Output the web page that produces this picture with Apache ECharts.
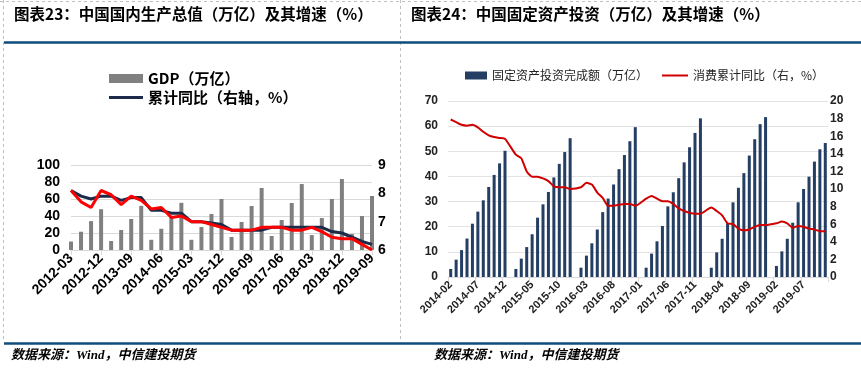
<!DOCTYPE html>
<html><head><meta charset="utf-8">
<script src="https://cdn.jsdelivr.net/npm/echarts@6/dist/echarts.min.js"></script>
<style>html,body{margin:0;padding:0;background:#fff}#c{width:861px;height:368px}</style>
</head><body><div id="c"></div>
<script>
// ---- Chart 23: GDP ----
const gdpCats = ['2012-03','2012-06','2012-09','2012-12','2013-03','2013-06','2013-09','2013-12','2014-03','2014-06','2014-09','2014-12','2015-03','2015-06','2015-09','2015-12','2016-03','2016-06','2016-09','2016-12','2017-03','2017-06','2017-09','2017-12','2018-03','2018-06','2018-09','2018-12','2019-03','2019-06','2019-09'];
const gdpValues = [10, 21.5, 34, 48, 10.6, 23.5, 36.5, 52, 12, 25, 39, 55.5, 12, 27, 42.4, 60, 15.3, 33, 51.8, 73, 16.5, 35.3, 55.3, 77.6, 17.6, 37.6, 60, 83.5, 18.8, 40, 63.5];
const gdpCumYoY = [8.1, 7.9, 7.8, 7.9, 7.9, 7.75, 7.85, 7.85, 7.4, 7.4, 7.3, 7.3, 7.0, 7.0, 6.95, 6.9, 6.7, 6.7, 6.7, 6.7, 6.8, 6.8, 6.8, 6.8, 6.8, 6.8, 6.65, 6.6, 6.45, 6.3, 6.2];
const gdpQtrYoY = [8.1, 7.7, 7.5, 8.1, 7.95, 7.6, 7.9, 7.75, 7.45, 7.5, 7.15, 7.2, 7.0, 7.0, 6.9, 6.8, 6.7, 6.7, 6.7, 6.8, 6.8, 6.8, 6.7, 6.7, 6.8, 6.65, 6.45, 6.4, 6.4, 6.2, 6.0];
const gdpLeftTicks = {min: 0, max: 100, interval: 20};
const gdpRightTicks = {min: 6, max: 9, interval: 1};

// ---- Chart 24: Fixed asset investment ----
const faiCats = [
 '2014-02','2014-03','2014-04','2014-05','2014-06','2014-07','2014-08','2014-09','2014-10','2014-11','2014-12',
 '2015-01','2015-02','2015-03','2015-04','2015-05','2015-06','2015-07','2015-08','2015-09','2015-10','2015-11','2015-12',
 '2016-01','2016-02','2016-03','2016-04','2016-05','2016-06','2016-07','2016-08','2016-09','2016-10','2016-11','2016-12',
 '2017-01','2017-02','2017-03','2017-04','2017-05','2017-06','2017-07','2017-08','2017-09','2017-10','2017-11','2017-12',
 '2018-01','2018-02','2018-03','2018-04','2018-05','2018-06','2018-07','2018-08','2018-09','2018-10','2018-11','2018-12',
 '2019-01','2019-02','2019-03','2019-04','2019-05','2019-06','2019-07','2019-08','2019-09','2019-10','2019-11'];
const faiValues = [
 3.2, 6.9, 10.7, 15.3, 21.2, 26.0, 30.5, 35.8, 40.6, 45.2, 50.2,
 null, 3.2, 7.3, 11.9, 17.0, 23.6, 28.9, 33.8, 39.6, 45.0, 49.7, 55.2,
 null, 3.7, 8.5, 13.4, 18.9, 25.8, 31.2, 36.8, 42.9, 48.5, 54.0, 59.6,
 null, 3.7, 9.3, 14.2, 20.3, 28.1, 33.7, 39.3, 45.6, 51.6, 57.3, 63.1,
 null, 3.7, 9.8, 15.2, 21.4, 29.7, 35.5, 41.3, 48.3, 54.8, 60.8, 63.6,
 null, 4.4, 10.2, 15.2, 21.6, 29.7, 35.0, 39.9, 45.9, 50.8, 53.3];
const faiYoY = [
 17.9, 17.6, 17.3, 17.2, 17.3, 17.0, 16.5, 16.1, 15.9, 15.8, 15.7,
 null, 13.9, 13.5, 12.0, 11.4, 11.4, 11.2, 10.9, 10.3, 10.2, 10.2, 10.0,
 null, 10.2, 10.7, 10.5, 9.6, 9.0, 8.1, 8.1, 8.2, 8.3, 8.3, 8.1,
 null, 8.9, 9.2, 8.9, 8.6, 8.6, 8.3, 7.8, 7.5, 7.3, 7.2, 7.2,
 null, 7.9, 7.5, 7.0, 6.1, 6.0, 5.5, 5.3, 5.4, 5.7, 5.9, 5.9,
 null, 6.1, 6.3, 6.1, 5.6, 5.8, 5.7, 5.5, 5.4, 5.2, 5.2];
const faiLeftTicks = {min: 0, max: 70, interval: 10};
const faiRightTicks = {min: 0, max: 20, interval: 2};

const title23 = '图表23：中国国内生产总值（万亿）及其增速（%）';
const title24 = '图表24：中国固定资产投资（万亿）及其增速（%）';
const sourceText = '数据来源：Wind，中信建投期货';

const FONT = '"Liberation Sans", "Noto Sans CJK SC", sans-serif';
const CJK = '"Noto Sans CJK SC", sans-serif';
const BLUE = '#0e4c7c';
const DASH = '#c0c0c0';

const chart = echarts.init(document.getElementById('c'), null, {renderer: 'canvas'});
chart.setOption({
  animation: false,
  backgroundColor: '#fff',
  graphic: [
    {type: 'line', shape: {x1: 0, y1: 1.5, x2: 861, y2: 1.5}, style: {stroke: DASH, lineWidth: 1, lineDash: [3, 3]}},
    {type: 'line', shape: {x1: 3.5, y1: 0, x2: 3.5, y2: 342}, style: {stroke: DASH, lineWidth: 1, lineDash: [3, 3]}},
    {type: 'line', shape: {x1: 400.5, y1: 0, x2: 400.5, y2: 342}, style: {stroke: DASH, lineWidth: 1, lineDash: [3, 3]}},
    {type: 'line', shape: {x1: 4, y1: 42.5, x2: 861, y2: 42.5}, style: {stroke: BLUE, lineWidth: 2.5}},
    {type: 'line', shape: {x1: 4, y1: 343.5, x2: 861, y2: 343.5}, style: {stroke: BLUE, lineWidth: 2.5}},
    {type: 'text', left: 14, top: 6, style: {text: title23, font: 'bold 15.5px ' + CJK, fill: '#000'}},
    {type: 'text', left: 411, top: 6, style: {text: title24, font: 'bold 15.5px ' + CJK, fill: '#000'}},
    {type: 'text', left: 11, top: 349, style: {text: sourceText, font: 'italic bold 13px "Liberation Serif", ' + CJK, fill: '#000'}},
    {type: 'text', left: 434, top: 349, style: {text: sourceText, font: 'italic bold 13px "Liberation Serif", ' + CJK, fill: '#000'}}
  ],
  legend: [
    {
      data: [{name: 'GDP（万亿）', icon: 'rect'}],
      left: 109, top: 71, padding: 0, itemWidth: 34, itemHeight: 9, itemGap: 6,
      textStyle: {fontFamily: CJK, fontSize: 15, fontWeight: 'bold', color: '#000'}
    },
    {
      data: [{name: '累计同比（右轴，%）', icon: 'rect'}],
      left: 109, top: 90, padding: 0, itemWidth: 34, itemHeight: 3,
      textStyle: {fontFamily: CJK, fontSize: 15, fontWeight: 'bold', color: '#000'}
    },
    {
      data: [{name: '固定资产投资完成额（万亿）', icon: 'rect'}],
      left: 465, top: 69.5, padding: 0, itemWidth: 22, itemHeight: 8,
      textStyle: {fontFamily: CJK, fontSize: 12, color: '#222'}
    },
    {
      data: [{name: '消费累计同比（右，%）', icon: 'rect'}],
      left: 662, top: 69.5, padding: 0, itemWidth: 26, itemHeight: 2,
      textStyle: {fontFamily: CJK, fontSize: 12, color: '#222'}
    }
  ],
  grid: [
    {left: 71, right: 489, top: 165, bottom: 118, containLabel: false},
    {left: 448, right: 33, top: 101, bottom: 91, containLabel: false}
  ],
  xAxis: [
    {
      type: 'category', gridIndex: 0, data: gdpCats, boundaryGap: false,
      axisLine: {lineStyle: {color: '#d9d9d9'}},
      axisTick: {show: true, interval: 2, length: 5, lineStyle: {color: '#d9d9d9'}},
      axisLabel: {interval: 2, rotate: 45, margin: 6, fontFamily: FONT, fontSize: 14, fontWeight: 'bold', color: '#000'}
    },
    {
      type: 'category', gridIndex: 1, data: faiCats, boundaryGap: true,
      axisLine: {lineStyle: {color: '#d9d9d9'}},
      axisTick: {show: true, interval: 4, length: 5, lineStyle: {color: '#d9d9d9'}},
      axisLabel: {interval: 4, rotate: 45, margin: 6, fontFamily: FONT, fontSize: 11, fontWeight: 'bold', color: '#222'}
    }
  ],
  yAxis: [
    {
      type: 'value', gridIndex: 0, min: gdpLeftTicks.min, max: gdpLeftTicks.max, interval: gdpLeftTicks.interval,
      axisLine: {show: false}, axisTick: {show: false},
      splitLine: {lineStyle: {color: '#d9d9d9'}},
      axisLabel: {margin: 11, fontFamily: FONT, fontSize: 14, fontWeight: 'bold', color: '#000'}
    },
    {
      type: 'value', gridIndex: 0, position: 'right', min: gdpRightTicks.min, max: gdpRightTicks.max, interval: gdpRightTicks.interval,
      axisLine: {show: false}, axisTick: {show: false}, splitLine: {show: false},
      axisLabel: {margin: 6, fontFamily: FONT, fontSize: 14, fontWeight: 'bold', color: '#000'}
    },
    {
      type: 'value', gridIndex: 1, min: faiLeftTicks.min, max: faiLeftTicks.max, interval: faiLeftTicks.interval,
      axisLine: {show: false}, axisTick: {show: false},
      splitLine: {lineStyle: {color: '#e3e3e3'}},
      axisLabel: {margin: 10, fontFamily: FONT, fontSize: 12, fontWeight: 'bold', color: '#222'}
    },
    {
      type: 'value', gridIndex: 1, position: 'right', min: faiRightTicks.min, max: faiRightTicks.max, interval: faiRightTicks.interval,
      axisLine: {show: false}, axisTick: {show: false}, splitLine: {show: false},
      axisLabel: {margin: 2, fontFamily: FONT, fontSize: 12, fontWeight: 'bold', color: '#222'}
    }
  ],
  series: [
    {name: 'GDP（万亿）', type: 'bar', xAxisIndex: 0, yAxisIndex: 0, data: gdpValues, barWidth: 4, itemStyle: {color: '#808080'}},
    {name: '累计同比（右轴，%）', type: 'line', xAxisIndex: 0, yAxisIndex: 1, data: gdpCumYoY, symbol: 'none',
      lineStyle: {color: '#1c2b4a', width: 3}, itemStyle: {color: '#1c2b4a'}},
    {name: '当季同比', type: 'line', xAxisIndex: 0, yAxisIndex: 1, data: gdpQtrYoY, symbol: 'none',
      lineStyle: {color: '#ff0000', width: 3}, itemStyle: {color: '#ff0000'}},
    {name: '固定资产投资完成额（万亿）', type: 'bar', xAxisIndex: 1, yAxisIndex: 2, data: faiValues, barWidth: 3, itemStyle: {color: '#243f63'}},
    {name: '消费累计同比（右，%）', type: 'line', xAxisIndex: 1, yAxisIndex: 3, data: faiYoY, symbol: 'none', connectNulls: true, smooth: 0.2,
      lineStyle: {color: '#d00000', width: 2}, itemStyle: {color: '#d00000'}}
  ]
});
</script></body></html>
